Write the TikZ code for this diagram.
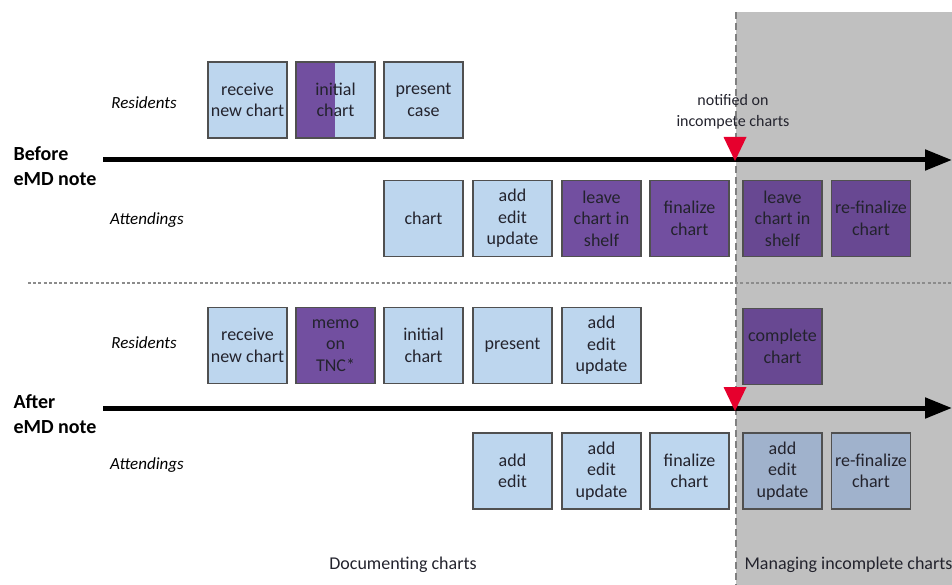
\documentclass[tikz,border=0pt]{standalone}
\usepackage{fontspec}
\setmainfont{Carlito}
\usetikzlibrary{arrows.meta}

\begin{document}
\begin{tikzpicture}[x=1pt,y=-1pt,
  task/.style={draw=tk_edge,line width=1.4pt,minimum width=79pt,minimum height=76pt,
    inner sep=0pt,align=center,text=tk_text,font=\fontsize{18}{21.5}\selectfont},
  lb/.style={task,fill=tk_blue},
  pu/.style={task,fill=tk_purple},
  pd/.style={task,fill=tk_dpurple},
  gb/.style={task,fill=tk_gblue},
  role/.style={text=black,font=\fontsize{17}{20}\selectfont\itshape},
  phase/.style={text=black,align=left,font=\fontsize{20}{25}\selectfont\bfseries},
  timeline/.style={line width=5pt,-{Triangle[length=27pt,width=20pt]}},
  redmark/.style={fill=tk_red,draw=none}]
% ------------------------------------------------ theme colors
\definecolor{tk_blue}{RGB}{189,214,238}   %#BDD6EE
\definecolor{tk_purple}{RGB}{114,79,160}  %#724FA0
\definecolor{tk_dpurple}{RGB}{104,72,146} %#684892
\definecolor{tk_gblue}{RGB}{160,178,204}  %#A0B2CC
\definecolor{tk_gray}{RGB}{192,192,192}   %#C0C0C0
\definecolor{tk_edge}{RGB}{80,80,80}
\definecolor{tk_text}{RGB}{35,35,45}
\definecolor{tk_red}{RGB}{230,0,45}

\useasboundingbox (0,0) rectangle (952,585);

% ------------------------------------------------ background
\fill[tk_gray] (736,12) rectangle (952,585);
\draw[line width=2.5pt,color=gray,dash pattern=on 7pt off 4pt] (736,12) -- (736,585);
\draw[line width=2pt,color=gray!90,dash pattern=on 3pt off 2.2pt] (28,283) -- (952,283);

% ------------------------------------------------ before eMD note
\node[phase,anchor=west] (before) at (10,166) {Before\\eMD note};
\node[role] (res1) at (144,103) {Residents};
\node[role] (att1) at (147,220) {Attendings};

\coordinate (b0) at (103,160);
\coordinate (b1) at (952,160);
\draw[timeline] (b0) -- (b1);

\node[lb] (r1a) at (247.5,100) {receive\\new chart};
\node[lb,path picture={\fill[tk_purple] (path picture bounding box.south west) rectangle ([xshift=-0.5pt]path picture bounding box.north);}] (r1b) at (335.5,100) {initial\\chart};
\node[lb] (r1c) at (423.5,100) {present\\case};

\node[lb] (a1a) at (423.5,218.5) {chart};
\node[lb] (a1b) at (512.5,218.5) {add\\edit\\update};
\node[pu] (a1c) at (601.5,218.5) {leave\\chart in\\shelf};
\node[pu] (a1d) at (689.5,218.5) {finalize\\chart};
\node[pd] (a1e) at (782.5,218.5) {leave\\chart in\\shelf};
\node[pd] (a1f) at (871,218.5) {re-finalize\\chart};

\fill[redmark] (723.5,137) -- (746.5,137) -- (735,161) -- cycle;
\node[text=tk_text,align=center,font=\fontsize{16}{21}\selectfont] (notif) at (733,112) {notified on\\incompete charts};

% ------------------------------------------------ after eMD note
\node[phase,anchor=west] (after) at (10,414) {After\\eMD note};
\node[role] (res2) at (144,343) {Residents};
\node[role] (att2) at (147,465) {Attendings};

\coordinate (c0) at (103,408);
\coordinate (c1) at (952,408);
\draw[timeline] (c0) -- (c1);

\node[lb] (r2a) at (247.5,345.5) {receive\\new chart};
\node[pu] (r2b) at (335.5,345.5) {memo\\on\\TNC*};
\node[lb] (r2c) at (423.5,345.5) {initial\\chart};
\node[lb] (r2d) at (512.5,345.5) {present};
\node[lb] (r2e) at (601.5,345.5) {add\\edit\\update};
\node[pd] (r2f) at (782.5,346.5) {complete\\chart};

\node[lb] (a2a) at (512.5,471) {add\\edit};
\node[lb] (a2b) at (601.5,471) {add\\edit\\update};
\node[lb] (a2c) at (689.5,471) {finalize\\chart};
\node[gb] (a2d) at (782.5,471) {add\\edit\\update};
\node[gb] (a2e) at (871,471) {re-finalize\\chart};

\fill[redmark] (723.5,387) -- (746.5,387) -- (735,411) -- cycle;

% ------------------------------------------------ phase labels
\node[text=tk_text,font=\fontsize{18}{20}\selectfont] (doc) at (403,565) {Documenting charts};
\node[text=tk_text,anchor=west,font=\fontsize{18}{20}\selectfont] (man) at (741,565) {Managing incomplete charts};

\end{tikzpicture}
\end{document}
